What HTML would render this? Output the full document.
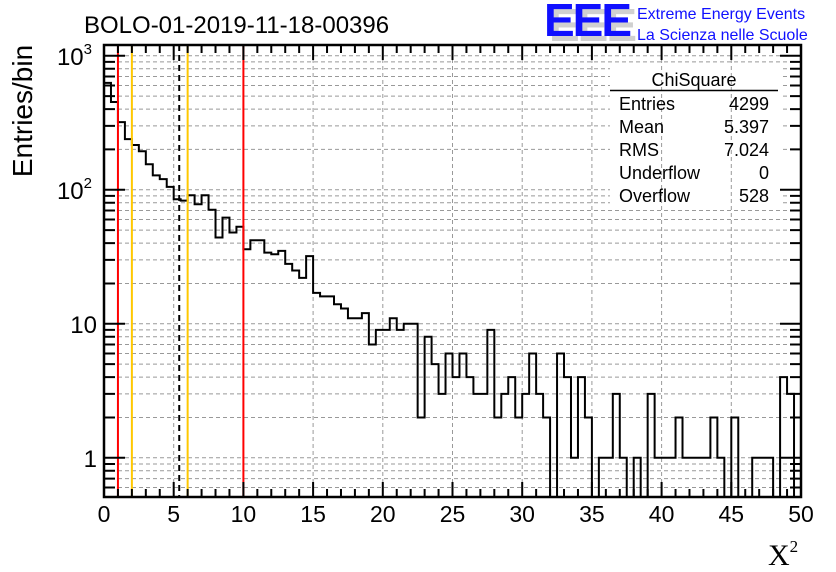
<!DOCTYPE html>
<html><head><meta charset="utf-8"><style>
body{margin:0;background:#fff;}
svg{display:block;font-family:"Liberation Sans",Arial,sans-serif;}
</style></head><body>
<svg id="chart" width="836" height="572" viewBox="0 0 836 572" xmlns="http://www.w3.org/2000/svg">
<rect width="836" height="572" fill="#fff"/>
<g id="grid"></g>
<rect x="610" y="66" width="170" height="140" fill="#fff"/>
<g id="vgrid"></g>
<g id="marks"></g>
<g id="axes"></g>
<text x="84" y="33" font-size="24">BOLO-01-2019-11-18-00396</text>
<text transform="translate(32,111) rotate(-90)" text-anchor="middle" font-size="28">Entries/bin</text>
<text x="768" y="565" font-family="Liberation Serif,serif" font-size="30">X<tspan font-size="17" dy="-13">2</tspan></text>
<g>
<text x="549" y="41" font-size="46" font-weight="bold" fill="#d0d0d0" letter-spacing="-2">EEE</text>
<text x="544" y="36" font-size="46" font-weight="bold" fill="#1010ff" letter-spacing="-2">EEE</text>
<text x="637" y="19" font-size="16" fill="#1010ff">Extreme Energy Events</text>
<text x="637" y="40" font-size="16" fill="#1010ff">La Scienza nelle Scuole</text>
</g>
<g font-size="18">
<text x="694" y="86" text-anchor="middle">ChiSquare</text>
<line x1="610" y1="90.5" x2="778" y2="90.5" stroke="#000" stroke-width="1.5"/>
<text x="619" y="110">Entries</text><text x="769" y="110" text-anchor="end">4299</text>
<text x="619" y="133">Mean</text><text x="769" y="133" text-anchor="end">5.397</text>
<text x="619" y="156">RMS</text><text x="769" y="156" text-anchor="end">7.024</text>
<text x="619" y="179">Underflow</text><text x="769" y="179" text-anchor="end">0</text>
<text x="619" y="202">Overflow</text><text x="769" y="202" text-anchor="end">528</text>
</g>
</svg>
<script>
const binCounts = [627,452,320,239,216,194,155,128,120,105,85,83,91,78,91,71,44,62,48,53,36,42,42,34,33,35,28,25,22,32,17,16,16,14,13,11,11,12,7,9,9,11,9,10,10,2,8,5,3,6,4,6,4,3,3,9,2,3,4,2,3,6,3,2,0,6,4,1,4,2,0,1,1,3,1,0,1,0,3,1,1,1,2,1,1,1,1,2,1,0,2,0,0,1,1,1,0,4,3,0];
const binWidth = 0.5;
const xTicks = [0,5,10,15,20,25,30,35,40,45,50];
const cutLines = [1,2,6,10];
const cutColors = ["#ff0000","#ffc800","#ffc800","#ff0000"];
const meanValue = 5.397;

const NS="http://www.w3.org/2000/svg";
const X0=104,X1=801,Y0=45,Y1=497;
const xmin=0,xmax=50,lmin=Math.log10(0.51),lmax=Math.log10(1203);
const sx=v=>X0+(v-xmin)/(xmax-xmin)*(X1-X0);
const sy=v=>Y1-(Math.log10(Math.max(v,1e-9))-lmin)/(lmax-lmin)*(Y1-Y0);
function mk(tag,attrs,parent){const e=document.createElementNS(NS,tag);for(const k in attrs)e.setAttribute(k,attrs[k]);parent.appendChild(e);return e;}
const grid=document.getElementById('grid'),vgrid=document.getElementById('vgrid'),marks=document.getElementById('marks'),axes=document.getElementById('axes');

const yTickVals=[];
for(let d=-1;d<=3;d++)for(let m=1;m<=9;m++){const v=m*Math.pow(10,d);if(v>=0.51&&v<=1203)yTickVals.push(v);}
yTickVals.forEach(v=>{const y=sy(v);
 const l=mk('line',{x1:X0,x2:X1,y1:y,y2:y,stroke:'#999','stroke-dasharray':'4,3','stroke-width':1},grid);
 
 
});
xTicks.slice(1,-1).forEach(v=>{const x=sx(v);
 const l=mk('line',{x1:x,x2:x,y1:Y0,y2:Y1,stroke:'#999','stroke-dasharray':'4,3','stroke-width':1},vgrid);
 
 
});

let d='M'+sx(0)+','+Y1;
binCounts.forEach((c,i)=>{const y=c>0?sy(c):Y1;d+=' L'+sx(i*binWidth)+','+y+' L'+sx((i+1)*binWidth)+','+y;});
d+=' L'+sx(binCounts.length*binWidth)+','+Y1;
const hist=mk('path',{d:d,fill:'none',stroke:'#000','stroke-width':2},marks);



cutLines.forEach((v,i)=>{const x=sx(v);
 const l=mk('line',{x1:x,x2:x,y1:Y0,y2:Y1,stroke:cutColors[i],'stroke-width':2},marks);
 
 
});
const mx=sx(meanValue);
const ml=mk('line',{x1:mx,x2:mx,y1:Y0,y2:Y1,stroke:'#000','stroke-width':2,'stroke-dasharray':'6,4'},marks);



const fr=mk('rect',{x:X0,y:Y0,width:X1-X0,height:Y1-Y0,fill:'none',stroke:'#000','stroke-width':2.5},axes);


for(let v=0;v<=50;v++){const x=sx(v),len=v%5===0?15:8;
 const t=mk('path',{d:`M${x},${Y1} v${-len} M${x},${Y0} v${len}`,stroke:'#000','stroke-width':2},axes);
 
 
}
xTicks.forEach(v=>{const t=mk('text',{x:sx(v),y:522,'text-anchor':'middle','font-size':23},axes);t.textContent=v;
 
 
});
yTickVals.forEach(v=>{const y=sy(v),major=Math.abs(Math.log10(v)-Math.round(Math.log10(v)))<1e-9,len=major?21:11;
 const t=mk('path',{d:`M${X0},${y} h${len} M${X1},${y} h${-len}`,stroke:'#000','stroke-width':2},axes);
 
 
});
const yLabels=[[1,'1',''],[10,'10',''],[100,'10','2'],[1000,'10','3']];
yLabels.forEach(([v,b,s])=>{const t=mk('text',{x:s?92:97,y:sy(v)+9,'text-anchor':'end','font-size':24},axes);
 t.textContent=b;
 if(s){const ts=mk('tspan',{'font-size':15,dy:-11},t);ts.textContent=s;}
 
 
});
</script>
</body></html>
